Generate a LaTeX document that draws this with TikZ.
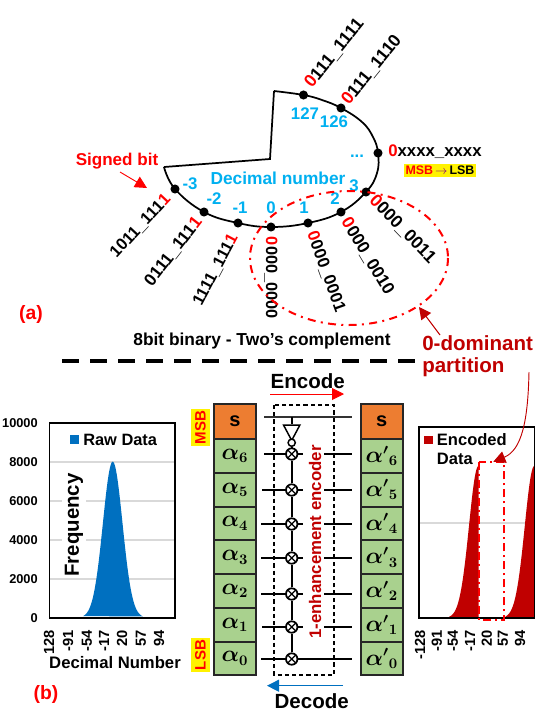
\documentclass[tikz,border=0pt]{standalone}
\usepackage{fontspec}
\setmainfont{Liberation Sans}
\usetikzlibrary{arrows.meta,shapes.geometric,positioning}
\definecolor{skyb}{HTML}{00B0F0}
\definecolor{dred}{HTML}{C00000}
\definecolor{barblue}{HTML}{0070C0}
\definecolor{cellg}{HTML}{A9D18E}
\definecolor{cello}{HTML}{ED7D31}
\definecolor{gridg}{HTML}{D9D9D9}
\newcommand{\fsz}[1]{\fontsize{#1}{#1}\selectfont\bfseries}
\newcommand{\rz}{{\color{red}0}}
\newcommand{\ro}{{\color{red}1}}
\tikzset{
  pt/.style={circle,fill=black,inner sep=0pt,minimum size=6.8pt},
  bin/.style={inner sep=0pt},
  num/.style={inner sep=0pt,text=skyb,font=\fsz{12.6}},
  tick/.style={inner sep=0pt,font=\fsz{11},rotate=90,anchor=east},
  ytick/.style={inner sep=0pt,font=\fsz{9.6},anchor=east},
  cellbox/.style={draw=black!85,line width=1.4pt,minimum width=31.5pt,inner sep=0pt,fill=cellg,font=\fsz{16}\boldmath},
  tagbox/.style={fill=yellow,text=red,inner sep=0pt,rotate=90,font=\fsz{11.3},minimum width=25pt,minimum height=14pt},
  xorg/.style={circle,draw=black,line width=1.3pt,fill=white,minimum size=8.6pt,inner sep=0pt,
    path picture={\draw[line width=.9pt] (path picture bounding box.north west)--(path picture bounding box.south east)
      (path picture bounding box.north east)--(path picture bounding box.south west);}},
  wire/.style={line width=1.3pt},
  reddash/.style={red,line width=1.5pt,dash pattern=on 6pt off 4pt on 1.5pt off 4pt},
  bigtip/.style={-{Triangle[length=9pt,width=9pt]}},
  lab/.style={inner sep=0pt}
}
\begin{document}
\begin{tikzpicture}[x=.75pt,y=-.75pt]
\useasboundingbox (0,0) rectangle (553,726);
% --- (a) ring
\foreach \n/\p in {a/{303.5,95},b/{341,108},c/{378,153},d/{366,192},e/{341,212},f/{308,223},g/{271,227},h/{238,223},i/{204,212},j/{175,189}}
  \node[pt] (\n) at (\p) {};
\coordinate (st) at (164,167);
\coordinate (k1) at (270,159);
\coordinate (k2) at (274,91);
\draw[line width=1.3pt,line join=miter] (st)--(k1)--(k2);
\draw[line width=1.3pt] plot[smooth,tension=.7] coordinates {(k2) (a.center) (322,100) (b.center) (362,122) (373,137) (c.center) (377,173) (d.center) (e.center) (f.center) (g.center) (h.center) (i.center) (j.center) (st)};
% binary labels
\node[bin,rotate=51,anchor=west,font=\fsz{13.2}] at (308,86) {\rz111\_1111};
\node[bin,rotate=51,anchor=west,font=\fsz{13.2}] at (345,103) {\rz111\_1110};
\node[bin,rotate=-46,anchor=west,font=\fsz{13.2}] at (372,198) {\rz000\_0011};
\node[bin,rotate=-59,anchor=west,font=\fsz{13}] at (345,219) {\rz000\_0010};
\node[bin,rotate=-70,anchor=west,font=\fsz{12.6}] at (311.5,232) {\rz000\_0001};
\node[bin,rotate=-90,anchor=west,font=\fsz{12.2}] at (270.7,236.7) {\rz000\_0000};
\node[bin,rotate=62,anchor=east,font=\fsz{12.4}] at (234.3,235) {1111\_111\ro};
\node[bin,rotate=52,anchor=east,font=\fsz{12.9}] at (199,219) {0111\_111\ro};
\node[bin,rotate=47,anchor=east,font=\fsz{12.4}] at (168,196.7) {1011\_111\ro};
% decimals
\node[num] at (305,114) {127};
\node[num] at (334,122) {126};
\node[num] at (357,156) {...};
\node[num] at (354,186) {3};
\node[num] at (335,199) {2};
\node[num] at (304,208) {1};
\node[num] at (271,208) {0};
\node[num] at (240,208) {-1};
\node[num] at (214,199) {-2};
\node[num] at (190,184) {-3};
\node[lab,text=skyb,font=\fsz{13}] at (278,178) {Decimal number};
\node[lab,anchor=west,font=\fsz{12.6}] at (388,152) {\rz xxxx\_xxxx};
\node[fill=yellow,inner sep=0pt,minimum width=54pt,minimum height=10pt,font=\fsz{9.3}] at (440,170.5) {\textcolor{red}{MSB}\,\textcolor{violet}{$\rightarrow$}\,LSB};
\node[lab,text=red,font=\fsz{12.8}] (sb) at (117,161) {Signed bit};
\coordinate (sb1) at (120,172);
\coordinate (sb2) at (147,188);
\draw[red,line width=.7pt,bigtip] (sb1)--(sb2);
\draw[reddash] (349,258) ellipse [x radius=99,y radius=67];
\coordinate (dp1) at (440,335);
\coordinate (dp2) at (419,307);
\draw[dred,line width=.8pt,bigtip] (dp1)--(dp2);
\node[lab,font=\fsz{13}] at (262,341) {8bit binary - Two’s complement};
\node[lab,text=red,font=\fsz{14.5}] at (31,314) {(a)};
\node[lab,text=dred,font=\fsz{15.4},anchor=west] (dom) at (422,343) {0-dominant};
\node[lab,text=dred,font=\fsz{15.4},anchor=west] (par) at (422,367) {partition};
\coordinate (sepa) at (62,361);
\coordinate (sepb) at (415,361);
\draw[line width=3pt,dash pattern=on 12.8pt off 8.2pt] (sepa)--(sepb);
\node[lab,text=red,font=\fsz{14.5}] at (46,694) {(b)};
% --- left chart
\foreach \y in {461.7,500.7,540,579} \draw[gridg,line width=1.2pt] (49,\y)--(175,\y);
\fill[barblue] plot[domain=83:143,samples=90] (\x,{617.7-156*exp(-0.5*((\x-112.7)/9.8)*((\x-112.7)/9.8))}) -- cycle;
\draw[line width=1.2pt] (49.3,422.7) rectangle (175,617.7);
\foreach \v/\y in {10000/422.7,8000/461.7,6000/500.7,4000/540,2000/579,0/618}
  \node[ytick] at (38,\y) {\v};
\node[lab,font=\fsz{15.3},rotate=90,fill=white,inner ysep=2pt] at (74,525) {Frequency};
\fill[barblue] (70,435) rectangle (79,444);
\node[lab,anchor=west,font=\fsz{12.3}] at (83,439.5) {Raw Data};
\foreach \v/\x in {128/49,-91/68,-54/87,-17/104,20/122,57/141,94/159}
  \node[tick] at (\x,630) {\v};
\node[lab,font=\fsz{12.5}] at (115,663) {Decimal Number};
% tags
\node[tagbox,minimum width=27.75pt] at (200.5,427.5) {MSB};
\node[tagbox] at (200.5,655) {LSB};
% --- register columns
\foreach \t/\b/\l/\lab in {439/472.7/l6/{$\alpha_6$},472.7/506.7/l5/{$\alpha_5$},506.7/540.3/l4/{$\alpha_4$},540.3/574/l3/{$\alpha_3$},574/608/l2/{$\alpha_2$},608/642/l1/{$\alpha_1$},642/675/l0/{$\alpha_0$}}
  \node[cellbox,minimum height={(\b-\t)*.75pt}] (\l) at (235,{(\t+\b)/2}) {\lab};
\foreach \t/\b/\l/\lab in {439/472.7/r6/{$\alpha'{}_6$},472.7/506.7/r5/{$\alpha'{}_5$},506.7/540.3/r4/{$\alpha'{}_4$},540.3/574/r3/{$\alpha'{}_3$},574/608/r2/{$\alpha'{}_2$},608/642/r1/{$\alpha'{}_1$},642/675/r0/{$\alpha'{}_0$}}
  \node[cellbox,minimum height={(\b-\t)*.75pt}] (\l) at (381.7,{(\t+\b)/2}) {\lab};
\node[cellbox,fill=cello,minimum height=25.9pt,font=\fsz{15}] (l7) at (235,421.6) {s};
\node[cellbox,fill=cello,minimum height=25.9pt,font=\fsz{15}] (r7) at (381.7,421.6) {s};
% --- encoder
\draw[line width=1.2pt,dash pattern=on 3.2pt off 2.2pt] (274,405) rectangle (334,675);
\foreach \n/\y in {6/454,5/490,4/524,3/558,2/594,1/627,0/659}
  \node[xorg] (x\n) at (291.7,\y) {};
\coordinate (tl) at (264,417);
\coordinate (tr) at (352,417);
\coordinate (tm) at (291.7,417);
\draw[wire,black!80] (tl)--(tr);
\node[isosceles triangle,isosceles triangle apex angle=56,shape border rotate=-90,draw=black,line width=1.1pt,fill=white,inner sep=0pt,minimum height=11.5pt,minimum width=11.5pt] (inv) at (291.7,430) {};
\node[circle,draw=black,line width=1.1pt,fill=white,inner sep=0pt,minimum size=5.4pt] (bub) at (291.7,442.7) {};
\draw[wire] (tm)--(inv.north);
\draw[wire] (bub)--(x6) (x6)--(x5) (x5)--(x4) (x4)--(x3) (x3)--(x2) (x2)--(x1) (x1)--(x0);
\foreach \n/\y/\s in {6/454/264,5/490/262,4/524/261,3/558/261,2/594/261,1/627/262,0/659/261}{
  \coordinate (ls\n) at (\s,\y);
  \coordinate (le\n) at (303,\y);
  \coordinate (rs\n) at (324,\y);
  \coordinate (re\n) at (352,\y);
  \draw[wire] (ls\n)--(x\n.west) (x\n.east)--(le\n) (rs\n)--(re\n);
}
\draw[wire] (le0)--(rs0);
\node[lab,text=dred,rotate=90,font=\fsz{12.6}] at (315,542) {1-enhancement encoder};
\node[lab,font=\fsz{15.4}] at (307.7,380.7) {Encode};
\coordinate (ea) at (270,394);
\coordinate (eb) at (344,394);
\draw[red,line width=.7pt,bigtip] (ea)--(eb);
\node[lab,font=\fsz{15.4}] at (311.7,701) {Decode};
\coordinate (da) at (343,685.7);
\coordinate (db) at (267,685.7);
\draw[barblue,line width=.7pt,bigtip] (da)--(db);
% --- right chart
\draw[gridg,line width=1.2pt] (419,522.7)--(534.3,522.7);
\fill[dred] plot[domain=449:478.5,samples=50] (\x,{618-152*exp(-0.5*((\x-478.5)/9.5)*((\x-478.5)/9.5))}) -- (478.5,618) -- cycle;
\fill[dred] plot[domain=505:534.3,samples=50] (\x,{618-152*exp(-0.5*((\x-534.3)/9.5)*((\x-534.3)/9.5))}) -- (534.3,618) -- cycle;
\draw[line width=1.2pt] (419,427) rectangle (534.3,618);
\fill[dred] (424,436) rectangle (433,444);
\node[lab,anchor=west,font=\fsz{12.4}] at (436.7,439.5) {Encoded};
\node[lab,anchor=west,font=\fsz{12.4}] at (436.7,458.5) {Data};
\foreach \v/\x in {-128/420,-91/436.7,-54/453,-17/470,20/486.7,57/503,94/520}
  \node[tick] at (\x,630) {\v};
\draw[red,line width=1.6pt,dash pattern=on 6pt off 3pt on 1.5pt off 3pt] (479.3,461.7) rectangle (504.3,620);
\coordinate (ca) at (529,372);
\coordinate (cb) at (493.3,461.7);
\draw[dred,line width=.7pt,bigtip] (ca) .. controls (528,420) and (522,450) .. (cb);
\end{tikzpicture}
\end{document}
